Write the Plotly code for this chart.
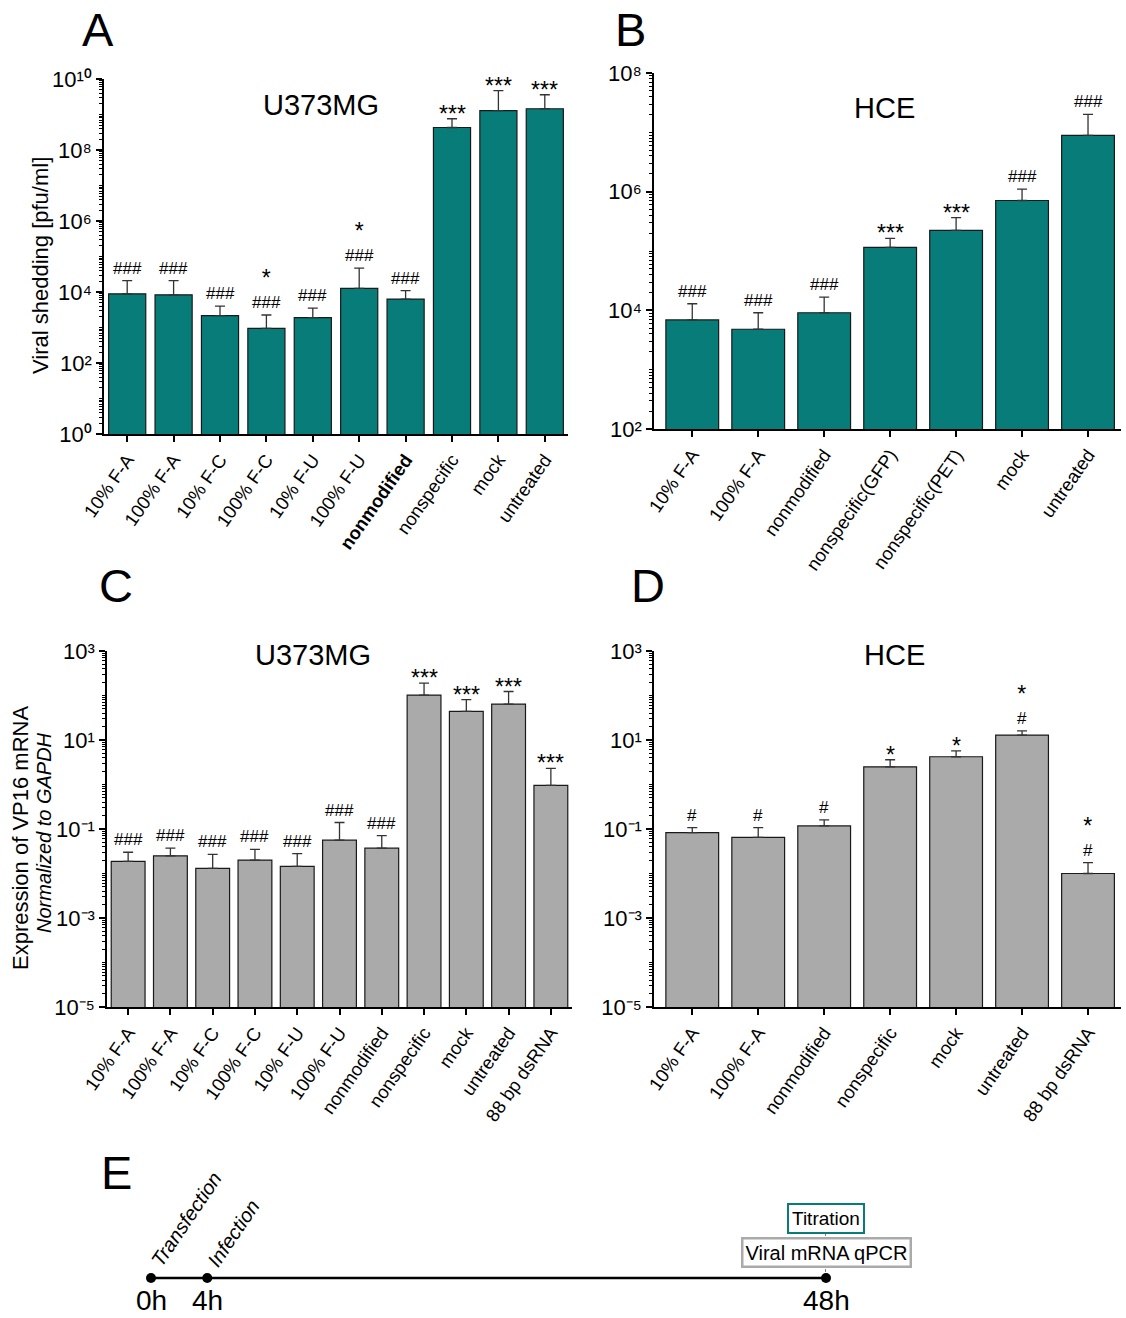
import math
import plotly.graph_objects as go

FONT = "Arial, Liberation Sans, sans-serif"
TEAL = "#077c79"
GREY = "#aaaaaa"
EDGE = "#1a1a1a"
W, H = 1126, 1318

# ---- Panel A: viral shedding, U373MG ----
a_labels = ["10% F-A", "100% F-A", "10% F-C", "100% F-C", "10% F-U", "100% F-U",
            "<b>nonmodified</b>", "nonspecific", "mock", "untreated"]
a_values = [8900, 8300, 2150, 950, 1900, 12700, 6300, 4.3e8, 1.28e9, 1.45e9]
a_sd = [12100, 12700, 1850, 1300, 1600, 34300, 4700, 3.3e8, 3.42e9, 2.15e9]
a_marks = ["###", "###", "###", "*|###", "###", "*|###", "###", "***", "***", "***"]

# ---- Panel B: viral shedding, HCE ----
b_labels = ["10% F-A", "100% F-A", "nonmodified", "nonspecific(GFP)",
            "nonspecific(PET)", "mock", "untreated"]
b_values = [6900, 4800, 9100, 115000, 222000, 710000, 8.9e6]
b_sd = [6000, 4300, 7600, 48000, 142000, 390000, 1.11e7]
b_marks = ["###", "###", "###", "***", "***", "###", "###"]

# ---- Panel C: VP16 mRNA, U373MG ----
c_labels = ["10% F-A", "100% F-A", "10% F-C", "100% F-C", "10% F-U", "100% F-U",
            "nonmodified", "nonspecific", "mock", "untreated", "88 bp dsRNA"]
c_values = [0.0187, 0.025, 0.0131, 0.020, 0.0145, 0.056, 0.037, 102, 44, 64, 0.96]
c_sd = [0.0113, 0.012, 0.0139, 0.015, 0.0135, 0.084, 0.034, 88, 37, 59, 1.34]
c_marks = ["###"] * 7 + ["***"] * 4

# ---- Panel D: VP16 mRNA, HCE ----
d_labels = ["10% F-A", "100% F-A", "nonmodified", "nonspecific", "mock",
            "untreated", "88 bp dsRNA"]
d_values = [0.083, 0.065, 0.117, 2.5, 4.2, 12.9, 0.0100]
d_sd = [0.024, 0.042, 0.043, 1.1, 1.5, 3.1, 0.0075]
d_marks = ["#", "#", "#", "*", "*", "*|#", "*|#"]

# ---- Panel E: timeline ----
time_points = [0, 4, 48]
time_labels = ["0h", "4h", "48h"]
time_events = {0: "Transfection", 4: "Infection"}

SUPERSCRIPT = str.maketrans("-0123456789", "⁻⁰¹²³⁴⁵⁶⁷⁸⁹")


def px_x(p):
    return p / W


def px_y(p):
    return 1 - p / H


def log_ticks(lo, hi, label_step):
    major = [10.0 ** k for k in range(lo, hi + 1, label_step)]
    text = ["10" + str(k).translate(SUPERSCRIPT) for k in range(lo, hi + 1, label_step)]
    minor = [m * 10.0 ** k for k in range(lo, hi) for m in range(1, 10)
             if not (m == 1 and (k - lo) % label_step == 0)]
    return major, text, minor


STAR_SIZE = 23
HASH_SIZE = 17

fig = go.Figure()

panels = [
    # axis suffix, labels, values, sd, marks, colour, x px, y px, log range, x range
    ("", a_labels, a_values, a_sd, a_marks, TEAL, (104, 568), (79, 434), (0, 10), (-0.5, 9.5)),
    ("2", b_labels, b_values, b_sd, b_marks, TEAL, (654, 1121), (73, 429), (2, 8), (-0.58, 6.5)),
    ("3", c_labels, c_values, c_sd, c_marks, GREY, (107, 572), (651, 1007), (-5, 3), (-0.5, 10.5)),
    ("4", d_labels, d_values, d_sd, d_marks, GREY, (654, 1121), (651, 1007), (-5, 3), (-0.58, 6.5)),
]

annotations = []
layout_axes = {}

for name, labels, values, sd, marks, colour, xd, yd, yr, xr in panels:
    idx = list(range(len(labels)))
    fig.add_trace(go.Bar(
        x=idx, y=values, width=0.8,
        marker=dict(color=colour, line=dict(color=EDGE, width=1.2)),
        error_y=dict(type="data", symmetric=False, array=sd,
                     arrayminus=[0] * len(sd), color="#333333",
                     thickness=1.3, width=5),
        xaxis="x" + name, yaxis="y" + name,
    ))
    major, text, minor = log_ticks(yr[0], yr[1], 2)
    layout_axes["xaxis" + name] = dict(
        domain=[px_x(xd[0]), px_x(xd[1])], range=list(xr), anchor="y" + name,
        tickmode="array", tickvals=idx, ticktext=labels, tickangle=-55,
        ticks="outside", ticklen=6, tickwidth=1.5, tickcolor="black",
        showline=True, linecolor="black", linewidth=1.5, showgrid=False,
        zeroline=False, automargin=False,
        tickfont=dict(family=FONT, size=18.5, color="black"),
    )
    layout_axes["yaxis" + name] = dict(
        domain=[px_y(yd[1]), px_y(yd[0])], type="log", range=list(yr),
        anchor="x" + name, tickmode="array", tickvals=major, ticktext=text,
        ticks="outside", ticklen=6, tickwidth=1.5, tickcolor="black",
        minor=dict(tickmode="array", tickvals=minor, ticks="outside",
                   ticklen=3, tickwidth=1, tickcolor="black"),
        showline=True, linecolor="black", linewidth=1.5, showgrid=False,
        zeroline=False, automargin=False,
        tickfont=dict(family=FONT, size=22, color="black"),
    )
    # significance marks above each error bar; "*|#" stacks a star over hashes
    for i, (v, s, m) in enumerate(zip(values, sd, marks)):
        y_top = math.log10(v + s)
        if "|" in m:
            star, hashes = m.split("|")
            txt = f'<span style="font-size:{STAR_SIZE}px">{star}</span><br>{hashes}'
            size, ys = HASH_SIZE, 1
        elif m.startswith("*"):
            txt, size, ys = m, STAR_SIZE, -10
        else:
            txt, size, ys = m, HASH_SIZE, 1
        annotations.append(dict(
            x=i, y=y_top, xref="x" + name, yref="y" + name,
            text=txt, showarrow=False, yanchor="bottom", yshift=ys,
            font=dict(family=FONT, size=size, color="black"),
        ))

# panel titles
for txt, x, y in [("U373MG", 321, 105), ("HCE", 884, 108),
                  ("U373MG", 313, 655), ("HCE", 894, 655)]:
    annotations.append(dict(x=px_x(x), y=px_y(y), xref="paper", yref="paper",
                            text=txt, showarrow=False, xanchor="center", yanchor="middle",
                            font=dict(family=FONT, size=29, color="black")))

# panel letters
for txt, x, y in [("A", 98, 30), ("B", 630, 30), ("C", 116, 585),
                  ("D", 648, 585), ("E", 116, 1172)]:
    annotations.append(dict(x=px_x(x), y=px_y(y), xref="paper", yref="paper",
                            text=txt, showarrow=False, xanchor="center", yanchor="middle",
                            font=dict(family=FONT, size=47, color="black")))

# y-axis titles
annotations.append(dict(x=px_x(40), y=px_y(266), xref="paper", yref="paper",
                        text="Viral shedding [pfu/ml]", textangle=-90, showarrow=False,
                        xanchor="center", yanchor="middle",
                        font=dict(family=FONT, size=22, color="black")))
annotations.append(dict(x=px_x(20), y=px_y(838), xref="paper", yref="paper",
                        text="Expression of VP16 mRNA", textangle=-90, showarrow=False,
                        xanchor="center", yanchor="middle",
                        font=dict(family=FONT, size=22, color="black")))
annotations.append(dict(x=px_x(44), y=px_y(833), xref="paper", yref="paper",
                        text="<i>Normalized to GAPDH</i>", textangle=-90, showarrow=False,
                        xanchor="center", yanchor="middle",
                        font=dict(family=FONT, size=20, color="black")))

# ---- timeline ----
fig.add_trace(go.Scatter(
    x=time_points, y=[0] * len(time_points), mode="lines+markers",
    line=dict(color="black", width=2.5), marker=dict(color="black", size=10),
    cliponaxis=False, xaxis="x5", yaxis="y5",
))
layout_axes["xaxis5"] = dict(domain=[px_x(151), px_x(826)], range=[0, 48], anchor="y5",
                             visible=False, automargin=False)
layout_axes["yaxis5"] = dict(domain=[px_y(1290), px_y(1266)], range=[-1, 1], anchor="x5",
                             visible=False, automargin=False)

for t, lab in zip(time_points, time_labels):
    annotations.append(dict(x=t, y=0, xref="x5", yref="paper", text=lab,
                            showarrow=False, xanchor="center", yanchor="bottom",
                            font=dict(family=FONT, size=28, color="black")))
for t, ev in time_events.items():
    annotations.append(dict(x=t, y=px_y(1273), xref="x5", yref="paper",
                            text=f"<i>{ev}</i>", textangle=-56, showarrow=False,
                            xanchor="left", yanchor="bottom", xshift=-7,
                            font=dict(family=FONT, size=20, color="black")))

annotations.append(dict(x=48, y=px_y(1218), xref="x5", yref="paper", text="Titration",
                        showarrow=False, xanchor="center", yanchor="middle",
                        bordercolor=TEAL, borderwidth=2, borderpad=3, bgcolor="white",
                        font=dict(family=FONT, size=19, color="black")))
annotations.append(dict(x=48, y=px_y(1252), xref="x5", yref="paper", text="Viral mRNA qPCR",
                        showarrow=False, xanchor="center", yanchor="middle",
                        bordercolor=GREY, borderwidth=2.5, borderpad=2, bgcolor="white",
                        font=dict(family=FONT, size=20, color="black")))

shapes = [dict(type="line", xref="x5", yref="paper", x0=48, x1=48,
               y0=px_y(1278), y1=px_y(1231), layer="below",
               line=dict(color="black", width=1, dash="dot"))]

fig.update_layout(
    width=W, height=H, margin=dict(l=0, r=0, t=0, b=0, autoexpand=False),
    paper_bgcolor="white", plot_bgcolor="white", showlegend=False,
    annotations=annotations, shapes=shapes,
    font=dict(family=FONT, color="black"),
    **layout_axes,
)

fig.write_html("out.html")
